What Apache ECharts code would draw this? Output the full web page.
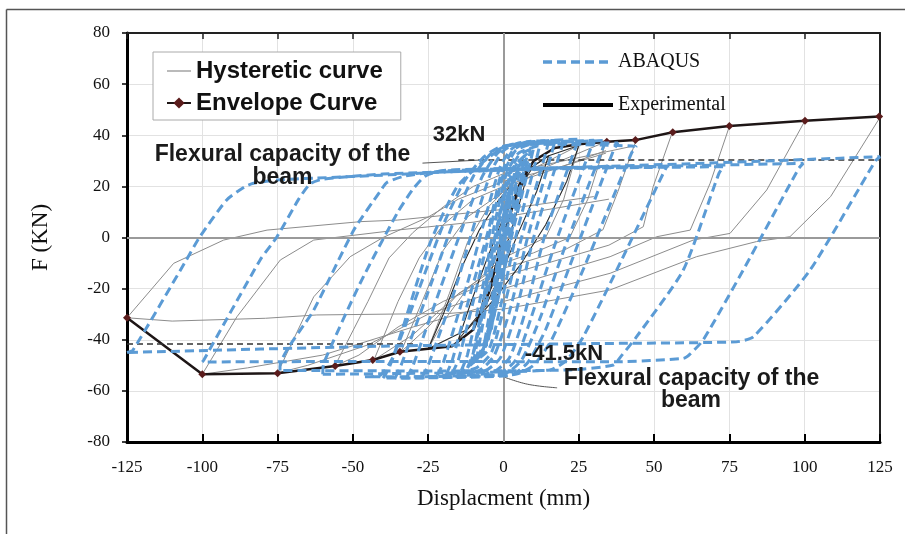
<!DOCTYPE html>
<html>
<head>
<meta charset="utf-8">
<script src="https://cdn.jsdelivr.net/npm/echarts@6/dist/echarts.min.js"></script>
<style>
html,body{margin:0;padding:0;background:#fff;}
#chart{width:905px;height:534px;}
</style>
</head>
<body>
<div id="chart"></div>
<script>
// ---------- Axis ticks ----------
const xTicks = [-125, -100, -75, -50, -25, 0, 25, 50, 75, 100, 125];
const yTicks = [-80, -60, -40, -20, 0, 20, 40, 60, 80];

// ---------- Experimental hysteretic curves (grey) ----------
const hysUnload125 = [[125,47],[108.6,16],[95.1,0.3],[84,-1.6],[64.1,-7.5],[35.4,-20.5],[0,-28],[-18,-29.7],[-62,-30.3],[-79,-31.6],[-110,-32.7],[-125,-31.4]];
const hysUnload100 = [[100,45.5],[87.4,18.6],[75.2,1.6],[63,-1],[35.4,-14],[0,-25],[-30,-35],[-60,-46],[-85,-51],[-100,-53.5]];
const hysUnload75  = [[75,43.5],[68.6,21.2],[62,2.9],[50.9,0.3],[35.4,-7.5],[0,-20],[-25,-30],[-45,-42],[-65,-50],[-75,-53]];
const hysUnload56  = [[56,41],[49.7,19.9],[46.4,4.2],[35,-3],[0,-15],[-20,-25],[-35,-35],[-48,-46],[-56,-50.3]];
const hysUnload44  = [[44,38],[38,18],[33,3],[20,-5],[0,-12],[-15,-22],[-30,-38],[-43,-47.9]];
const hysUnload34  = [[34,37.5],[28,15],[22,0],[10,-6],[0,-10],[-15,-22],[-25,-35],[-34,-44.7]];
const hysUnload25  = [[25,36],[20,15],[14,0],[0,-8],[-12,-20],[-20,-33],[-25,-43.5]];
const hysReload125 = [[-125,-31.4],[-109.5,-10.1],[-92.9,-1],[-78.5,2.9],[-47.5,6.2],[-35.3,6.8],[0,11],[30,16]];
const hysReload100 = [[-100,-53.5],[-88.5,-31],[-74.1,-8.8],[-63,-1],[-35.3,2.9],[-10,6],[10,10],[35,15]];
const hysReload75  = [[-75,-53],[-63,-23.2],[-50.9,-7.5],[-40,0],[-25,8],[-15,15],[0,22],[20,28],[34,33]];
const hysReload56  = [[-56,-50.3],[-45,-25],[-38,-8],[-30,2],[-20,12],[-10,20],[0,25],[20,30],[44,36]];
const hysReload43  = [[-43,-47.9],[-35,-25],[-28,-8],[-20,5],[-10,15],[0,20],[20,28],[34,34]];
const hysReload34  = [[-34,-44.7],[-27,-25],[-20,-5],[-12,8],[0,18],[15,28],[34,37.5]];
const hysReload25  = [[-25,-43.5],[-18,-22],[-12,-2],[-5,12],[5,24],[25,36]];

// ---------- Experimental core (black) ----------
const expCore1 = [[-25,-43.5],[-20,-30],[-14,-12],[-8,3],[-2,14],[5,24],[15,32],[25,36],[21,22],[14,5],[6,-10],[-3,-24],[-12,-36],[-25,-43.5]];
const expCore2 = [[-15,-40],[-11,-26],[-6,-10],[-1,5],[4,17],[10,28],[15,32],[11,18],[5,2],[0,-12],[-6,-27],[-15,-40]];
const expCore3 = [[-8,-30],[-5,-16],[-1,-2],[3,12],[8,25],[5,12],[1,-3],[-3,-17],[-8,-30]];

// ---------- Envelope curve ----------
const envelope = [[-125,-31.4],[-100,-53.5],[-75,-53.1],[-55.9,-50.3],[-43.4,-47.9],[-34.4,-44.7],[-25,-43.5],[-17,-42.5],[-10,-36],[-5,-22],[0,0],[5,20],[10,30],[17,35],[25,36.5],[34.3,37.5],[43.8,38.1],[56.2,41.2],[75,43.6],[100.1,45.7],[124.7,47.3]];

// ---------- ABAQUS loops ----------
const abq125 = [[-125,-45],[-123,-44],[-105.3,-8.8],[-100.8,0.3],[-91.9,14.7],[-86,19.8],[-83,21.2],[-75.2,22.5],[-63,23.2],[-38,24.5],[-18,25.7],[20,27.3],[60,28.8],[100,30.5],[125,31.6],[123.5,30],[101.8,-12.7],[83,-38.8],[77.4,-40.8],[30,-41.5],[-40,-42.5],[-125,-45]];
const abq100 = [[-100,-48.7],[-99.5,-47.9],[-80.8,-8.8],[-75.2,0.3],[-68,15],[-64.2,21],[-60,22.8],[-40,24.8],[0,26.3],[50,27.8],[99.5,29],[98,27],[79.6,-12.7],[66.3,-40.1],[62,-45.5],[59.7,-47.3],[37.6,-48.6],[-50,-48.5],[-100,-48.7]];
const abq75  = [[-74.2,-52],[-74.2,-50.5],[-63,-28.4],[-49.7,2.9],[-41,18],[-38.7,21.5],[-33,24],[-20,26],[0,26.8],[40,27.3],[73,27.7],[71.5,25],[59.7,-12.7],[44.2,-38.8],[39,-46.5],[36.5,-49.9],[22.1,-51.8],[-30,-52.2],[-74.2,-52]];
const abq56  = [[-60,-53.5],[-59.7,-49.2],[-47.6,-17.9],[-35.3,9.5],[-30,19],[-26,24],[-20,26.2],[0,27],[30,27.5],[54.2,27.7],[53,25],[37.6,-12.7],[26.5,-38.8],[21,-48],[15.4,-51.8],[-20,-53],[-60,-53.5]];
const abq44  = [[-46,-54.5],[-41,-54],[-36.7,-46.8],[-24.4,-2.2],[-15.5,19.7],[-8.8,27.6],[-3,33],[1.2,36],[10,36.5],[44,35.5],[42.5,33],[26.4,-12.7],[16,-40],[10,-50],[4,-53.5],[-20,-54.5],[-46,-54.5]];
const abq38  = [[-40,-55],[-38,-51],[-28,-20],[-20,5],[-13,22],[-7,31],[-1,35.5],[10,36.5],[38,37],[36.5,34],[23,-8],[14,-36],[8,-49],[2,-54],[-40,-55]];
const abq34  = [[-36,-55],[-34,-50],[-24,-18],[-16,8],[-10,24],[-4,33],[2,36],[15,37],[34,38],[33,35],[20,-5],[12,-32],[6,-48],[0,-53.5],[-36,-55]];
const abq30  = [[-32,-54.5],[-30,-50],[-21,-20],[-13,6],[-7,24],[-2,33],[3,36.5],[30,38],[29,35],[17,-3],[9,-32],[4,-48],[-2,-53.5],[-32,-54.5]];
const abq25  = [[-27,-54.5],[-25,-50],[-16,-20],[-9,8],[-4,26],[0,34],[5,37],[25,38.5],[24,35.5],[14,2],[7,-30],[2,-47],[-4,-53],[-27,-54.5]];
const abq20  = [[-22,-54],[-20,-49],[-12,-18],[-6,8],[-1,28],[3,35],[8,37.5],[20,38],[19,34],[10,0],[4,-30],[-1,-47],[-6,-52],[-22,-54]];
const abq17  = [[-19,-53.5],[-17,-48],[-11,-22],[-5,3],[-1,24],[3,34],[8,37],[17,37.5],[16,33],[8,0],[2,-29],[-3,-46],[-8,-52],[-19,-53.5]];
const abq15  = [[-17,-53],[-15,-48],[-9,-20],[-4,5],[0,25],[4,34],[9,36.5],[15,37.5],[14,33],[6,0],[0,-28],[-4,-45],[-9,-51],[-17,-53]];
const abq12  = [[-14,-52],[-12,-46],[-7,-20],[-3,5],[1,25],[5,33],[12,36],[11,31],[4,0],[-1,-27],[-5,-44],[-14,-52]];
const abq10  = [[-12,-51],[-10,-45],[-6,-20],[-2,5],[1,22],[5,32],[10,35],[9,30],[3,2],[-2,-25],[-6,-42],[-12,-51]];
const abq9   = [[-11,-50],[-8,-35],[-5,-12],[-1,10],[3,27],[9,34],[7,25],[2,0],[-3,-28],[-7,-45],[-11,-50]];
const abq8   = [[-10,-49],[-7,-30],[-3,-5],[0,15],[4,28],[8,33],[6,22],[2,-2],[-2,-25],[-6,-42],[-10,-49]];
const abq7   = [[-9,-48],[-6,-28],[-3,-8],[1,14],[4,26],[7,31],[5,18],[1,-4],[-3,-26],[-6,-40],[-9,-48]];
const abq6   = [[-7,-46],[-4,-25],[-1,-2],[2,18],[6,30],[4,18],[1,-2],[-2,-22],[-5,-38],[-7,-46]];
const abq5   = [[-6,-43],[-3,-22],[0,0],[2,16],[5,27],[3,14],[0,-4],[-3,-22],[-6,-43]];
const abq4   = [[-5,-40],[-3,-20],[-1,0],[1,15],[4,25],[2,12],[0,-5],[-2,-20],[-5,-40]];
const abq3   = [[-4,-36],[-2,-15],[0,3],[2,14],[3,22],[1,8],[-1,-8],[-4,-36]];

// ---------- Reference levels / leaders ----------
const capacityPos = 30.5;   // drawn "32kN" level
const capacityNeg = -41.5;
const leaderUpper = [[-26.9,29.1],[-7.8,30.3]];
const leaderLower = [[0,-54.5],[8,-57.4],[17.8,-58.8]];

const greyPaths = [hysUnload125,hysUnload100,hysUnload75,hysUnload56,hysUnload44,hysUnload34,hysUnload25,
  hysReload125,hysReload100,hysReload75,hysReload56,hysReload43,hysReload34,hysReload25];
const blackPaths = [expCore1, expCore2, expCore3];
const abaqusPaths = [abq125,abq100,abq75,abq56,abq44,abq38,abq34,abq30,abq25,abq20,abq17,abq15,abq12,abq10,abq9,abq8,abq7,abq6,abq5,abq4,abq3];

const BLUE = '#5b9bd5';
const serif = '"Liberation Serif","Times New Roman",serif';
const sans = '"Liberation Sans",Arial,sans-serif';

const series = [];
series.push({
  type:'line', name:'zero', data: leaderUpper, symbol:'none', silent:true, z:1,
  lineStyle:{width:0, opacity:0},
  markLine:{silent:true, symbol:'none', label:{show:false}, animation:false,
    lineStyle:{color:'#9a9a9a', width:2, type:'solid'},
    data:[{xAxis:0},{yAxis:0}]}
});
greyPaths.forEach(p => series.push({
  type:'line', name:'Hysteretic curve', data:p, symbol:'none', silent:true, z:2,
  lineStyle:{color:'#8c8c8c', width:1}, itemStyle:{color:'#8c8c8c'}
}));
series.push({
  type:'line', name:'refs', data: leaderLower, symbol:'none', silent:true, z:2, smooth:0.4,
  lineStyle:{color:'#555', width:1},
  markLine:{silent:true, symbol:'none', label:{show:false}, animation:false,
    lineStyle:{color:'#333', width:1.5, type:[6,4]},
    data:[[{coord:[-15,capacityPos]},{coord:[125,capacityPos]}],
          [{coord:[-125,capacityNeg]},{coord:[-30,capacityNeg]}]]}
});
series.push({
  type:'line', name:'leader', data: leaderUpper, symbol:'none', silent:true, z:2,
  lineStyle:{color:'#555', width:1}
});
blackPaths.forEach(p => series.push({
  type:'line', name:'Experimental', data:p, symbol:'none', silent:true, z:3,
  lineStyle:{color:'#2a2a2a', width:1.1}, itemStyle:{color:'#000'}
}));
series.push({
  type:'line', name:'Envelope Curve', symbol:'diamond', symbolSize:8, z:4, silent:true,
  data: envelope.map(p => Math.abs(p[0]) > 28 ? p : {value:p, symbol:'none'}),
  lineStyle:{color:'#1e1616', width:2.5}, itemStyle:{color:'#5a1c1c'}
});
abaqusPaths.forEach(p => series.push({
  type:'line', name:'ABAQUS', data:p, symbol:'none', silent:true, z:5, smooth:0.2,
  lineStyle:{color:BLUE, width:3, type:[9,5]}, itemStyle:{color:BLUE}
}));

const chart = echarts.init(document.getElementById('chart'), null, {renderer:'canvas'});
chart.setOption({
  animation:false,
  backgroundColor:'#fff',
  grid:{left:127, right:25, top:33, bottom:92},
  legend:[
    {orient:'vertical', left:153, top:52, padding:[7,18,5,13], itemGap:8,
     itemWidth:24, itemHeight:14, borderColor:'#aaa', borderWidth:1, backgroundColor:'#fff',
     selectedMode:false, z:10,
     textStyle:{fontFamily:sans, fontWeight:'bold', fontSize:24, color:'#111'},
     data:[{name:'Hysteretic curve', itemStyle:{opacity:0}, lineStyle:{width:1.2}},
           {name:'Envelope Curve', lineStyle:{width:2}}]},
    {orient:'vertical', left:541, top:52, padding:0, itemGap:23,
     itemWidth:70, itemHeight:14, selectedMode:false, z:10,
     textStyle:{fontFamily:serif, fontSize:20, color:'#111'},
     data:[{name:'ABAQUS', itemStyle:{opacity:0}, lineStyle:{width:3.5}},
           {name:'Experimental', itemStyle:{opacity:0}, lineStyle:{width:4, color:'#000'}}]}
  ],
  xAxis:[
    {type:'value', position:'bottom', min:-125, max:125, interval:25,
     name:'Displacment (mm)', nameLocation:'middle', nameGap:45,
     nameTextStyle:{fontFamily:serif, fontSize:23, color:'#111'},
     axisLine:{onZero:false, lineStyle:{color:'#000', width:3}},
     axisTick:{inside:true, length:8, lineStyle:{color:'#000', width:2}},
     axisLabel:{margin:17, fontFamily:serif, fontSize:17, color:'#111'},
     splitLine:{show:true, lineStyle:{color:'#e2e2e2', width:1}}},
    {type:'value', position:'top', min:-125, max:125, interval:25,
     axisLine:{onZero:false, lineStyle:{color:'#222', width:2}},
     axisTick:{inside:true, length:6, lineStyle:{color:'#222', width:1.5}},
     axisLabel:{show:false}, splitLine:{show:false}}
  ],
  yAxis:[
    {type:'value', position:'left', min:-80, max:80, interval:20,
     name:'F (KN)', nameLocation:'middle', nameGap:75, nameRotate:90,
     nameTextStyle:{fontFamily:serif, fontSize:23, color:'#111'},
     axisLine:{onZero:false, lineStyle:{color:'#000', width:3}},
     axisTick:{inside:false, length:5, lineStyle:{color:'#000', width:1.5}},
     axisLabel:{margin:17, fontFamily:serif, fontSize:17, color:'#111'},
     splitLine:{show:true, lineStyle:{color:'#e2e2e2', width:1}}},
    {type:'value', position:'right', min:-80, max:80, interval:20,
     axisLine:{onZero:false, lineStyle:{color:'#222', width:2}},
     axisTick:{show:false}, axisLabel:{show:false}, splitLine:{show:false}}
  ],
  series: series,
  graphic:[
    {type:'line', shape:{x1:6.5,y1:9.5,x2:905,y2:9.5}, style:{stroke:'#555', lineWidth:1.5}, silent:true},
    {type:'line', shape:{x1:6.5,y1:9.5,x2:6.5,y2:534}, style:{stroke:'#555', lineWidth:1.5}, silent:true},
    {type:'text', z:100, silent:true, style:{text:'32kN', x:459, y:135, align:'center', verticalAlign:'middle', font:'bold 22px '+sans, fill:'#1a1a1a'}},
    {type:'text', z:100, silent:true, style:{text:'Flexural capacity of the', x:282.5, y:155, align:'center', verticalAlign:'middle', font:'bold 23px '+sans, fill:'#1a1a1a'}},
    {type:'text', z:100, silent:true, style:{text:'beam', x:282.5, y:178, align:'center', verticalAlign:'middle', font:'bold 23px '+sans, fill:'#1a1a1a'}},
    {type:'text', z:100, silent:true, style:{text:'-41.5kN', x:564, y:354, align:'center', verticalAlign:'middle', font:'bold 22px '+sans, fill:'#1a1a1a'}},
    {type:'text', z:100, silent:true, style:{text:'Flexural capacity of the', x:691.5, y:379, align:'center', verticalAlign:'middle', font:'bold 23px '+sans, fill:'#1a1a1a'}},
    {type:'text', z:100, silent:true, style:{text:'beam', x:691, y:401, align:'center', verticalAlign:'middle', font:'bold 23px '+sans, fill:'#1a1a1a'}}
  ]
});
</script>
</body>
</html>
